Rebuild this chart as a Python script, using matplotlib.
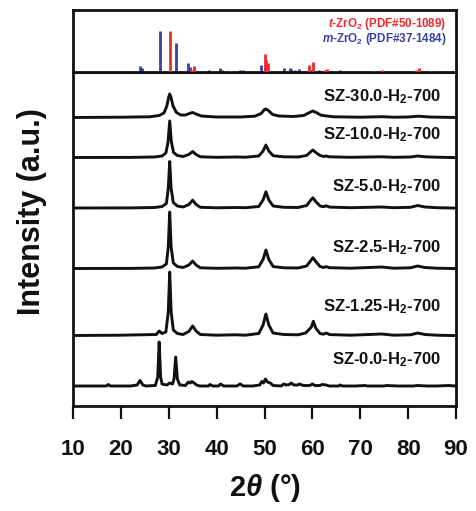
import numpy as np
import matplotlib
matplotlib.use("Agg")
import matplotlib.pyplot as plt

plt.rcParams['font.family'] = ['Liberation Sans', 'DejaVu Sans']
plt.rcParams['font.weight'] = 'bold'
plt.rcParams['mathtext.fontset'] = 'custom'
plt.rcParams['mathtext.rm'] = 'Liberation Sans:bold'
plt.rcParams['mathtext.bf'] = 'Liberation Sans:bold'
plt.rcParams['mathtext.it'] = 'Liberation Sans:bold:italic'

# ---------------- data ----------------
sample_labels = ["SZ-30.0-H$_2$-700", "SZ-10.0-H$_2$-700", "SZ-5.0-H$_2$-700",
                 "SZ-2.5-H$_2$-700", "SZ-1.25-H$_2$-700", "SZ-0.0-H$_2$-700"]
offsets = [288, 248, 197.5, 137, 70, 19]
label_dy = [21, 23, 22, 21, 29, 27]

sz30 = [(10,0.5),(20,0.8),(26,1.2),(28,2.5),(29.0,5),(29.6,12),(30.0,21),(30.2,24),(30.45,21),
        (30.9,12),(31.6,5.5),(32.5,3),(33.5,3),(34.3,4.5),(35.0,5.5),(35.7,4),(36.8,2),(40,1),(45,1),
        (48.0,1.8),(49.3,4.5),(50.0,8.5),(50.3,9),(50.8,7.5),(51.7,3.5),(53,2),(56,1.5),(58.2,2.5),
        (59.4,5.5),(60.1,7),(60.8,5.5),(61.8,2.8),(63,2),(64.5,1.2),(70,0.8),(74.5,1.3),(77,0.8),
        (80,1),(82.2,1.8),(84.5,1.0),(90,0.5)]
sz10 = [(10,0.5),(22,0.6),(27,1),(28.6,2),(29.4,5),(29.85,16),(30.2,37),(30.55,16),(31.0,5.5),
        (31.8,2.5),(33,1.5),(34.2,3.5),(35.0,6.5),(35.7,3.5),(36.6,1.2),(40,0.7),(44,1),(46,0.8),
        (48.8,2),(49.7,7),(50.3,13),(50.9,7),(51.8,2.3),(54,1.2),(57,1),(58.8,2.5),(59.6,6),
        (60.1,8),(60.7,5.5),(61.6,2.5),(62.4,1.5),(62.9,2),(63.5,1.2),(68,0.7),(74.5,1.2),(77,0.7),
        (80.5,1),(82.0,2),(83.5,1.2),(86,0.8),(90,0.4)]
sz5 = [(10,0.5),(22,0.6),(27,1),(28.6,2),(29.5,5),(29.9,20),(30.2,47),(30.5,20),(30.95,6),
       (31.8,2.5),(33,1.5),(34.2,4),(35.0,8.3),(35.7,4),(36.6,1.2),(40,0.7),(44,1),(46,0.8),
       (48.8,2),(49.7,8.5),(50.3,16.7),(50.9,8.5),(51.8,2.5),(54,1.2),(57,1),(58.8,3),(59.6,8),
       (60.1,10.7),(60.7,7),(61.6,2.5),(62.3,1.8),(62.9,2.7),(63.6,1.4),(68,0.8),(74.5,1.5),
       (77,0.8),(80.5,1.2),(82.0,3),(83.5,1.5),(86,0.8),(90,0.4)]
sz25 = [(10,0.5),(22,0.6),(27,1),(28.6,2),(29.5,5),(29.9,22),(30.2,57),(30.5,22),(30.95,6),
        (31.8,2.5),(33,1.5),(34.2,4),(35.0,8),(35.7,4),(36.6,1.2),(40,0.7),(44,1),(46,0.8),
        (48.8,2.2),(49.7,9.5),(50.3,19),(50.9,9.5),(51.8,2.5),(54,1.2),(57,1),(58.8,3),(59.6,8),
        (60.1,11.3),(60.7,7.5),(61.6,2.5),(62.3,1.6),(62.9,2.3),(63.6,1.3),(68,0.8),(74.5,2),
        (77,0.8),(80.5,1.2),(82.0,3),(83.5,1.5),(86,0.8),(90,0.4)]
sz125 = [(10,0.5),(20,0.8),(24,1.2),(27.4,1.5),(28.0,5),(28.6,2.5),(29.4,4),(29.9,24),(30.2,64),
         (30.5,24),(30.95,6),(31.8,2.5),(33,1.5),(34.2,4.5),(35.0,10),(35.7,5),(36.6,1.5),(40,0.8),
         (44,1.2),(46,0.8),(48.8,2.5),(49.7,11),(50.3,22),(50.9,11),(51.8,3),(54,1.5),(57,1.2),
         (58.6,3),(59.4,7),(59.8,9),(60.2,14.7),(60.7,8),(61.6,2.5),(62.3,1.8),(62.9,3),(63.6,1.4),
         (68,0.8),(74.5,2),(77,0.8),(80.5,1.2),(82.0,3),(83.5,1.5),(86,0.8),(90,0.4)]
sz0 = [(10,1),(17,1),(17.4,2.5),(17.8,1),(22,1),(23.4,2),(24.0,6.5),(24.6,2),(25.2,1),(27.2,1.5),
       (27.7,10),(28.0,45),(28.3,10),(28.6,3),(29.0,2.5),(29.6,2),(30.2,4),(30.8,3),(31.1,8),
       (31.45,30),(31.8,8),(32.3,2),(33.5,1.5),(34.1,5),(34.5,4),(34.8,5.5),(35.3,4),(35.8,2),
       (36.5,1),(38.3,1),(38.6,2.5),(39.2,1),(40.4,1),(40.8,3),(41.5,1),(44.2,1),(44.9,3),(45.6,1),
       (47.5,1),(49.0,2),(49.4,5.5),(49.8,4),(50.2,8),(50.6,5),(51.2,4),(51.8,1.5),(53.5,1),
       (54.0,3),(54.5,2),(55.2,2.5),(55.6,4),(56.1,2),(57.0,2),(57.3,3),(57.8,2),(58.2,1.5),
       (59.5,1.5),(60.0,3),(60.5,1.5),(61.6,1.5),(62.0,2.5),(62.9,2),(63.5,1),(65.5,1),(65.8,2),
       (66.3,1),(69,1),(71.0,1.5),(71.5,1),(75.0,1),(75.4,1.5),(78,1),(81,1),(82,1.5),(84,1),
       (86,1),(88.5,1.5),(90,1)]
traces = [sz30, sz10, sz5, sz25, sz125, sz0]

# reference patterns (relative intensity)
t_pos = [30.2, 34.6, 35.2, 43.1, 50.2, 50.4, 50.7, 59.3, 60.2, 62.7, 63.0, 72.9, 74.6, 81.6, 82.3, 84.8]
t_int = [1.00, 0.06, 0.14, 0.03, 0.44, 0.30, 0.22, 0.16, 0.25, 0.05, 0.08, 0.02, 0.04, 0.05, 0.10, 0.02]
m_pos = [24.0, 24.4, 28.2, 31.5, 34.1, 34.4, 35.3, 38.5, 40.7, 41.2, 44.8, 45.5, 49.3, 50.1, 50.6,
         54.1, 55.4, 55.6, 56.4, 57.2, 58.1, 59.8, 61.4, 62.8, 65.7]
m_int = [0.15, 0.10, 1.00, 0.70, 0.22, 0.12, 0.10, 0.04, 0.10, 0.06, 0.06, 0.05, 0.18, 0.14, 0.08,
         0.09, 0.10, 0.08, 0.06, 0.07, 0.03, 0.06, 0.05, 0.06, 0.05]

xticks = [10, 20, 30, 40, 50, 60, 70, 80, 90]

red = '#ec2a2e'
blue = '#3a3fa6'
ink = '#111111'

# ---------------- figure ----------------
W, H = 476, 511
fig = plt.figure(figsize=(W / 100, H / 100), dpi=100)
L = 73 / W
Wd = (456 - 73) / W
ax = fig.add_axes([L, 1 - 406 / H, Wd, 334 / H])
axt = fig.add_axes([L, 1 - 72 / H, Wd, 62 / H])

for tr, off, lab, dy in zip(traces, offsets, sample_labels, label_dy):
    xs = np.array([p[0] for p in tr])
    ys = np.array([p[1] for p in tr]) + off
    ax.plot(xs, ys, color=ink, lw=2.1, solid_joinstyle='round')
    ax.text(86.9, off + dy, lab, ha='right', va='center', fontsize=12, fontweight='bold', color=ink)

ax.set_xlim(10, 90)
ax.set_ylim(0, 334)
ax.set_xticks(xticks)
ax.set_xticklabels([str(v) for v in xticks])
ax.set_yticks([])
ax.tick_params(axis='x', direction='out', length=9.5, width=1.6, labelsize=16, pad=14, colors=ink)
for t in ax.get_xticklabels():
    t.set_fontweight('bold')
for s in ax.spines.values():
    s.set_linewidth(2.0)
    s.set_color(ink)

axt.vlines(t_pos, 0, t_int, color=red, lw=2.0, zorder=3)
axt.vlines(m_pos, 0, m_int, color=blue, lw=2.0, zorder=2)
axt.set_xlim(10, 90)
axt.set_ylim(0, 1.51)
axt.set_xticks([])
axt.set_yticks([])
for s in axt.spines.values():
    s.set_linewidth(2.0)
    s.set_color(ink)
axt.text(0.975, 0.78, r'$\it{t}$-ZrO$_2$ (PDF#50-1089)', transform=axt.transAxes,
         ha='right', va='center', fontsize=8.4, fontweight='bold', color=red)
axt.text(0.975, 0.53, r'$\it{m}$-ZrO$_2$ (PDF#37-1484)', transform=axt.transAxes,
         ha='right', va='center', fontsize=8.4, fontweight='bold', color=blue)

fig.text(31.7 / W, 1 - 211.5 / H, 'Intensity (a.u.)', rotation=90, ha='center', va='center',
         fontsize=22, fontweight='bold', color=ink)
fig.text(265 / W, 1 - 488 / H, r'2$\it{\theta}$ (°)', ha='center', va='center',
         fontsize=21, fontweight='bold', color=ink)

fig.savefig('out.png', dpi=100)
